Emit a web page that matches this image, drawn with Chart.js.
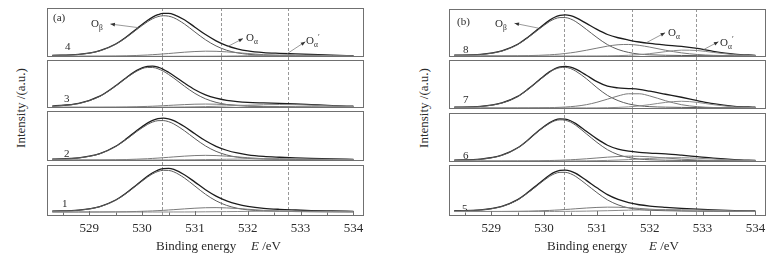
<!DOCTYPE html>
<html>
<head>
<meta charset="utf-8">
<title>O 1s XPS spectra</title>
<script src="https://cdn.jsdelivr.net/npm/chart.js@4.4.1/dist/chart.umd.min.js"></script>
<style>
  body { margin: 0; width: 776px; height: 256px; background: #fff; position: relative; overflow: hidden;
         font-family: "Liberation Serif", "Times New Roman", serif; color: #2b2b2b; }
  .sub { position: absolute; }
  .lbl { position: absolute; font-size: 11px; line-height: 12px; white-space: nowrap; color: #2b2b2b;
         filter: grayscale(100%); }
  .lbl sub { font-size: 7.5px; vertical-align: -3px; }
  .lbl sup { font-size: 8px; vertical-align: 4px; }
  .ylab { position: absolute; width: 110px; text-align: center; font-size: 13px; line-height: 14px;
          transform: rotate(-90deg); white-space: nowrap; }
  .xlab { position: absolute; font-size: 13px; line-height: 14px; white-space: nowrap; filter: grayscale(100%); }
</style>
</head>
<body>

<div class="ylab" style="left:-34px;top:101px">Intensity /(a.u.)</div>
<div class="ylab" style="left:369px;top:101px">Intensity /(a.u.)</div>
<div class="xlab" style="left:156px;top:239px">Binding energy</div>
<div class="xlab" style="left:251px;top:239px"><i>E</i> /eV</div>
<div class="xlab" style="left:547px;top:239px">Binding energy</div>
<div class="xlab" style="left:649px;top:239px"><i>E</i> /eV</div>

<div class="lbl" style="left:53px;top:11px">(a)</div>
<div class="lbl" style="left:457px;top:15px">(b)</div>

<div class="lbl" style="left:65px;top:40px">4</div>
<div class="lbl" style="left:64px;top:92px">3</div>
<div class="lbl" style="left:64px;top:147px">2</div>
<div class="lbl" style="left:62px;top:197px">1</div>
<div class="lbl" style="left:463px;top:43px">8</div>
<div class="lbl" style="left:463px;top:93px">7</div>
<div class="lbl" style="left:463px;top:149px">6</div>
<div class="lbl" style="left:462px;top:202px">5</div>

<div class="lbl" style="left:91px;top:17px">O<sub>β</sub></div>
<div class="lbl" style="left:246px;top:31px">O<sub>α</sub></div>
<div class="lbl" style="left:306px;top:32px">O<sub>α</sub><sup>′</sup></div>
<div class="lbl" style="left:495px;top:17px">O<sub>β</sub></div>
<div class="lbl" style="left:668px;top:26px">O<sub>α</sub></div>
<div class="lbl" style="left:720px;top:34px">O<sub>α</sub><sup>′</sup></div>

<script>
// binding energy grid (eV)
const energy = [528.3, 528.8, 529.2, 529.5, 529.7, 529.9, 530.1, 530.2, 530.3, 530.4, 530.5, 530.6,
                530.8, 531.0, 531.2, 531.4, 531.6, 531.8, 532.0, 532.3, 532.6, 532.9, 533.2, 533.6, 534.0];

// panel (a) - samples 4..1 : fitted envelope, O_beta, O_alpha, O_alpha'
const fit4 = [3.6, 5.6, 13.6, 27.9, 42.8, 60.7, 78.2, 85.5, 90.7, 93.5, 93.4, 91.0, 79.7, 63.9, 48.1, 34.7, 24.5, 17.6, 13.0, 9.4, 7.8, 6.6, 5.4, 3.8, 2.8];
const ob4  = [3.4, 5.4, 13.2, 27.2, 41.7, 58.9, 75.4, 82.0, 86.5, 88.4, 87.5, 84.1, 70.8, 53.6, 36.9, 23.7, 14.5, 9.0, 5.9, 3.8, 3.2, 2.7, 2.5, 2.3, 2.1];
const oa4  = [1.7, 1.7, 1.9, 2.2, 2.6, 3.3, 4.3, 5.0, 5.7, 6.6, 7.4, 8.4, 10.3, 11.7, 12.5, 12.2, 11.0, 9.3, 7.4, 5.0, 3.3, 2.4, 2.0, 1.8, 1.7];
const oap4 = [1.5, 1.5, 1.5, 1.5, 1.5, 1.5, 1.5, 1.5, 1.5, 1.5, 1.5, 1.5, 1.6, 1.6, 1.7, 1.8, 2.0, 2.3, 2.7, 3.6, 4.3, 4.5, 3.9, 2.7, 2.0];

const fit3 = [4.0, 9.6, 25.1, 47.1, 64.4, 79.8, 88.3, 88.8, 86.6, 82.2, 75.9, 68.7, 53.1, 38.9, 28.1, 20.9, 16.3, 13.6, 11.9, 10.7, 9.7, 8.5, 7.1, 5.2, 3.7];
const ob3  = [3.8, 9.4, 24.7, 46.5, 63.5, 78.3, 86.1, 86.1, 83.4, 78.3, 71.4, 63.5, 46.5, 31.0, 19.5, 12.0, 7.5, 5.1, 3.8, 3.1, 2.7, 2.4, 2.3, 2.0, 1.9];
const oa3  = [1.5, 1.6, 1.7, 1.9, 2.2, 2.7, 3.4, 3.8, 4.3, 4.9, 5.5, 6.1, 7.2, 8.1, 8.4, 8.1, 7.2, 6.1, 4.9, 3.4, 2.4, 1.9, 1.7, 1.6, 1.5];
const oap3 = [1.5, 1.5, 1.5, 1.5, 1.5, 1.6, 1.6, 1.7, 1.7, 1.8, 1.9, 1.9, 2.2, 2.6, 3.0, 3.6, 4.4, 5.2, 6.0, 7.0, 7.4, 7.0, 6.0, 4.4, 3.0];

const fit2 = [4.0, 6.8, 15.8, 31.4, 46.9, 64.5, 80.3, 86.2, 89.9, 90.9, 89.5, 85.6, 73.0, 57.6, 42.9, 31.2, 22.8, 17.0, 13.1, 9.8, 8.0, 6.6, 5.4, 4.3, 3.5];
const ob2  = [3.9, 6.5, 15.4, 30.6, 45.7, 62.5, 77.3, 82.6, 85.5, 85.7, 83.4, 78.6, 64.2, 47.4, 31.9, 20.4, 12.8, 8.2, 5.6, 4.1, 3.5, 3.2, 2.9, 2.8, 2.6];
const oa2  = [2.2, 2.2, 2.4, 2.7, 3.1, 3.9, 4.8, 5.5, 6.2, 7.0, 7.8, 8.7, 10.3, 11.5, 12.0, 11.5, 10.3, 8.7, 7.0, 4.8, 3.5, 2.7, 2.4, 2.2, 2.2];
const oap2 = [2.0, 2.1, 2.1, 2.1, 2.1, 2.1, 2.1, 2.2, 2.2, 2.2, 2.3, 2.3, 2.5, 2.7, 3.0, 3.3, 3.7, 4.1, 4.5, 4.9, 5.0, 4.7, 4.1, 3.3, 2.7];

const fit1 = [9.9, 11.9, 19.2, 32.4, 46.5, 63.6, 80.6, 87.9, 93.3, 96.2, 96.8, 94.6, 83.8, 68.8, 53.3, 40.4, 30.8, 24.1, 19.6, 15.6, 13.5, 12.2, 11.1, 10.2, 9.4];
const ob1  = [9.8, 11.7, 18.9, 31.9, 45.7, 62.4, 78.7, 85.5, 90.4, 92.7, 92.5, 89.6, 77.2, 60.7, 44.1, 30.8, 21.5, 15.8, 12.5, 10.4, 9.7, 9.3, 9.0, 8.8, 8.6];
const oa1  = [8.1, 8.2, 8.3, 8.5, 8.7, 9.2, 9.9, 10.3, 10.9, 11.4, 12.2, 12.9, 14.4, 15.8, 16.8, 17.0, 16.4, 15.2, 13.7, 11.4, 9.9, 8.9, 8.5, 8.2, 8.2];
const oap1 = [8.0, 8.0, 8.0, 8.1, 8.1, 8.1, 8.1, 8.1, 8.1, 8.1, 8.1, 8.2, 8.2, 8.3, 8.5, 8.7, 8.9, 9.1, 9.4, 9.8, 10.0, 9.9, 9.7, 9.1, 8.7];

// panel (b) - samples 8..5
const fit8 = [3.9, 5.7, 13.2, 27.3, 43.0, 61.0, 78.6, 85.3, 89.1, 90.3, 88.7, 84.6, 72.1, 59.2, 48.3, 41.3, 36.4, 32.2, 29.1, 25.7, 22.8, 18.3, 12.3, 6.3, 3.7];
const ob8  = [3.6, 5.3, 12.6, 26.5, 41.9, 59.3, 75.9, 81.7, 84.6, 84.6, 81.7, 75.9, 59.3, 41.9, 26.5, 16.1, 9.8, 6.2, 4.7, 3.7, 3.3, 3.0, 2.8, 2.6, 2.4];
const oa8  = [2.3, 2.4, 2.5, 2.7, 3.0, 3.6, 4.6, 5.4, 6.3, 7.5, 8.9, 10.5, 14.5, 19.0, 23.3, 26.3, 26.9, 25.0, 21.2, 14.5, 8.9, 5.4, 3.6, 2.7, 2.5];
const oap8 = [2.0, 2.1, 2.1, 2.1, 2.1, 2.1, 2.1, 2.2, 2.2, 2.2, 2.2, 2.2, 2.3, 2.3, 2.5, 2.9, 3.7, 5.0, 7.2, 11.5, 14.7, 13.9, 9.9, 5.0, 2.9];

const fit7 = [3.7, 5.5, 12.6, 26.1, 41.5, 59.1, 76.5, 83.0, 86.9, 88.0, 86.4, 82.1, 69.7, 56.3, 47.0, 43.5, 42.2, 40.4, 36.7, 30.4, 24.2, 17.4, 10.9, 5.6, 3.6];
const ob7  = [3.5, 5.2, 12.2, 25.6, 40.8, 58.3, 75.4, 81.7, 85.2, 85.8, 83.4, 78.0, 62.5, 44.0, 28.0, 17.3, 10.4, 6.7, 4.8, 3.8, 3.3, 3.0, 2.8, 2.6, 2.5];
const oa7  = [2.2, 2.2, 2.3, 2.4, 2.5, 2.7, 2.9, 3.1, 3.5, 4.0, 4.8, 5.8, 8.9, 13.9, 20.3, 26.9, 31.4, 31.4, 26.9, 17.0, 8.9, 4.8, 3.1, 2.6, 2.4];
const oap7 = [2.0, 2.1, 2.1, 2.1, 2.1, 2.1, 2.2, 2.2, 2.2, 2.2, 2.2, 2.3, 2.3, 2.4, 2.7, 3.3, 4.4, 6.3, 9.0, 13.6, 16.0, 13.6, 9.0, 4.4, 2.7];

const fit6 = [3.8, 5.9, 14.0, 29.3, 45.9, 64.9, 80.7, 86.2, 88.7, 88.3, 85.0, 79.1, 63.2, 47.6, 34.6, 26.5, 22.2, 19.8, 18.5, 16.7, 14.0, 10.9, 7.9, 5.0, 3.5];
const ob6  = [3.6, 5.7, 13.7, 28.9, 45.4, 64.1, 79.5, 84.7, 86.9, 86.0, 82.2, 75.6, 58.1, 40.5, 25.3, 15.2, 9.3, 6.0, 4.6, 3.7, 3.3, 3.0, 2.8, 2.6, 2.5];
const oa6  = [2.1, 2.2, 2.2, 2.3, 2.4, 2.6, 3.0, 3.3, 3.6, 4.1, 4.6, 5.2, 6.6, 8.3, 10.0, 11.3, 12.0, 11.7, 10.7, 8.3, 5.8, 4.1, 3.0, 2.4, 2.2];
const oap6 = [2.1, 2.1, 2.1, 2.1, 2.1, 2.1, 2.2, 2.2, 2.2, 2.2, 2.3, 2.3, 2.5, 2.8, 3.3, 4.0, 4.9, 6.1, 7.3, 8.7, 8.9, 7.8, 6.1, 4.0, 2.8];

const fit5 = [10.7, 12.4, 19.6, 33.3, 48.6, 65.9, 82.8, 89.0, 92.4, 93.2, 91.2, 86.5, 72.3, 57.2, 43.3, 33.6, 27.1, 22.8, 20.2, 17.6, 15.4, 13.8, 12.5, 11.1, 10.2];
const ob5  = [10.5, 12.2, 19.2, 32.6, 47.5, 64.2, 80.2, 85.8, 88.6, 88.6, 85.8, 80.2, 64.2, 47.5, 32.6, 22.6, 16.5, 13.1, 11.6, 10.7, 10.2, 10.0, 9.8, 9.6, 9.4];
const oa5  = [9.1, 9.2, 9.3, 9.6, 9.9, 10.5, 11.3, 11.9, 12.4, 13.2, 13.9, 14.7, 16.2, 17.4, 18.0, 17.8, 16.8, 15.4, 13.9, 11.9, 10.5, 9.7, 9.4, 9.2, 9.2];
const oap5 = [9.1, 9.1, 9.1, 9.1, 9.1, 9.2, 9.3, 9.3, 9.4, 9.4, 9.5, 9.6, 9.9, 10.3, 10.7, 11.3, 11.8, 12.3, 12.8, 13.0, 12.8, 12.1, 11.3, 10.3, 9.6];

// peak position guides (eV)
const dashA = [530.38, 531.5, 532.76];
const dashB = [530.37, 531.66, 532.87];

const xTickValues = [528.5, 529, 529.5, 530, 530.5, 531, 531.5, 532, 532.5, 533, 533.5, 534];
const yMaxA = [105, 102, 106, 103.5];
const yMaxB = [103, 101, 101, 103.5];

// label arrows, data coords: curve point -> arrow tip
const arrowsA = [[529.92, 63, 529.40, 70.7], [531.63, 23, 531.91, 39.6], [532.75, 7.5, 533.09, 32.8]];
const arrowsB = [[529.89, 62, 529.44, 72.3], [531.94, 31, 532.29, 52.1], [533.02, 16, 533.30, 32.8]];

const subplots = [
  { fit: fit4, ob: ob4, oa: oa4, oap: oap4, max: yMaxA[0], dash: dashA, left: 47, row: 8, boxH: 49, first: true, arrows: arrowsA },
  { fit: fit3, ob: ob3, oa: oa3, oap: oap3, max: yMaxA[1], dash: dashA, left: 47, row: 60, boxH: 48 },
  { fit: fit2, ob: ob2, oa: oa2, oap: oap2, max: yMaxA[2], dash: dashA, left: 47, row: 111, boxH: 50 },
  { fit: fit1, ob: ob1, oa: oa1, oap: oap1, max: yMaxA[3], dash: dashA, left: 47, row: 165, boxH: 51, last: true },
  { fit: fit8, ob: ob8, oa: oa8, oap: oap8, max: yMaxB[0], dash: dashB, left: 449, row: 9, boxH: 48, first: true, arrows: arrowsB },
  { fit: fit7, ob: ob7, oa: oa7, oap: oap7, max: yMaxB[1], dash: dashB, left: 449, row: 60, boxH: 49 },
  { fit: fit6, ob: ob6, oa: oa6, oap: oap6, max: yMaxB[2], dash: dashB, left: 449, row: 113, boxH: 49 },
  { fit: fit5, ob: ob5, oa: oa5, oap: oap5, max: yMaxB[3], dash: dashB, left: 449, row: 165, boxH: 51, last: true }
];

Chart.defaults.font.family = '"Liberation Serif", "Times New Roman", serif';

function makeDecor(sp) {
  return {
    id: 'decor',
    beforeDatasetsDraw(chart) {
      const { ctx, chartArea: a, scales: { x } } = chart;
      ctx.save();
      ctx.strokeStyle = '#8c8c8c';
      ctx.lineWidth = 0.9;
      ctx.setLineDash([3, 2]);
      sp.dash.forEach(e => {
        const px = Math.round(x.getPixelForValue(e)) + 0.5;
        ctx.beginPath();
        ctx.moveTo(px, a.top - (sp.first ? 0 : 3));
        ctx.lineTo(px, a.bottom + (sp.last ? 0 : 3));
        ctx.stroke();
      });
      ctx.restore();
    },
    afterDatasetsDraw(chart) {
      const { ctx, chartArea: a, scales: { x, y } } = chart;
      ctx.save();
      ctx.strokeStyle = '#707070';
      ctx.lineWidth = 1;
      ctx.strokeRect(a.left + 0.5, a.top + 0.5, a.right - a.left - 1, a.bottom - a.top - 1);
      if (sp.last) {
        xTickValues.forEach(v => {
          const px = Math.round(x.getPixelForValue(v)) + 0.5;
          const len = Number.isInteger(v) ? 4 : 2.5;
          ctx.beginPath();
          ctx.moveTo(px, a.bottom - 1);
          ctx.lineTo(px, a.bottom - 1 - len);
          ctx.stroke();
        });
      }
      (sp.arrows || []).forEach(([x0, y0, x1, y1]) => {
        const ax = x.getPixelForValue(x0), ay = y.getPixelForValue(y0);
        const bx = x.getPixelForValue(x1), by = y.getPixelForValue(y1);
        ctx.strokeStyle = '#808080';
        ctx.lineWidth = 0.8;
        ctx.beginPath();
        ctx.moveTo(ax, ay);
        ctx.lineTo(bx, by);
        ctx.stroke();
        const ang = Math.atan2(by - ay, bx - ax), c = Math.cos(ang), s = Math.sin(ang);
        ctx.fillStyle = '#333';
        ctx.beginPath();
        ctx.moveTo(bx, by);
        ctx.lineTo(bx - 4.5 * c + 1.8 * s, by - 4.5 * s - 1.8 * c);
        ctx.lineTo(bx - 4.5 * c - 1.8 * s, by - 4.5 * s + 1.8 * c);
        ctx.closePath();
        ctx.fill();
      });
      ctx.restore();
    }
  };
}

function line(arr, color, width) {
  return {
    data: arr.map((v, i) => ({ x: energy[i], y: v })),
    borderColor: color,
    borderWidth: width,
    pointRadius: 0,
    fill: false,
    cubicInterpolationMode: 'monotone'
  };
}

subplots.forEach(sp => {
  const axisH = 22;
  const h = 3 + sp.boxH + (sp.last ? axisH : 3);
  const box = document.createElement('div');
  box.className = 'sub';
  box.style.left = sp.left + 'px';
  box.style.top = (sp.row - 3) + 'px';
  const cv = document.createElement('canvas');
  cv.width = 317;
  cv.height = h;
  cv.style.width = '317px';
  cv.style.height = h + 'px';
  box.appendChild(cv);
  document.body.appendChild(box);

  new Chart(cv, {
    type: 'line',
    data: {
      datasets: [
        line(sp.oap, '#8a8a8a', 1),
        line(sp.oa, '#7a7a7a', 1),
        line(sp.ob, '#5c5c5c', 1),
        line(sp.fit, '#1c1c1c', 1.3)
      ]
    },
    options: {
      responsive: false,
      animation: false,
      events: [],
      layout: { padding: { top: 3, bottom: sp.last ? 0 : 3, left: 0, right: 0 }, autoPadding: false },
      plugins: { legend: { display: false }, tooltip: { enabled: false } },
      scales: {
        x: {
          type: 'linear',
          min: 528.2,
          max: 534.2,
          display: !!sp.last,
          afterBuildTicks: s => { s.ticks = xTickValues.map(v => ({ value: v })); },
          afterFit: s => {
            if (sp.last) { s.height = axisH; }
            s.paddingLeft = 0;
            s.paddingRight = 0;
          },
          grid: { display: false, drawTicks: false },
          border: { display: false },
          ticks: {
            autoSkip: false,
            maxRotation: 0,
            padding: 5,
            color: '#2b2b2b',
            font: { size: 13 },
            callback: v => Number.isInteger(v) ? String(v) : ''
          }
        },
        y: { display: false, min: 0, max: sp.max }
      }
    },
    plugins: [makeDecor(sp)]
  });
});
</script>
</body>
</html>
